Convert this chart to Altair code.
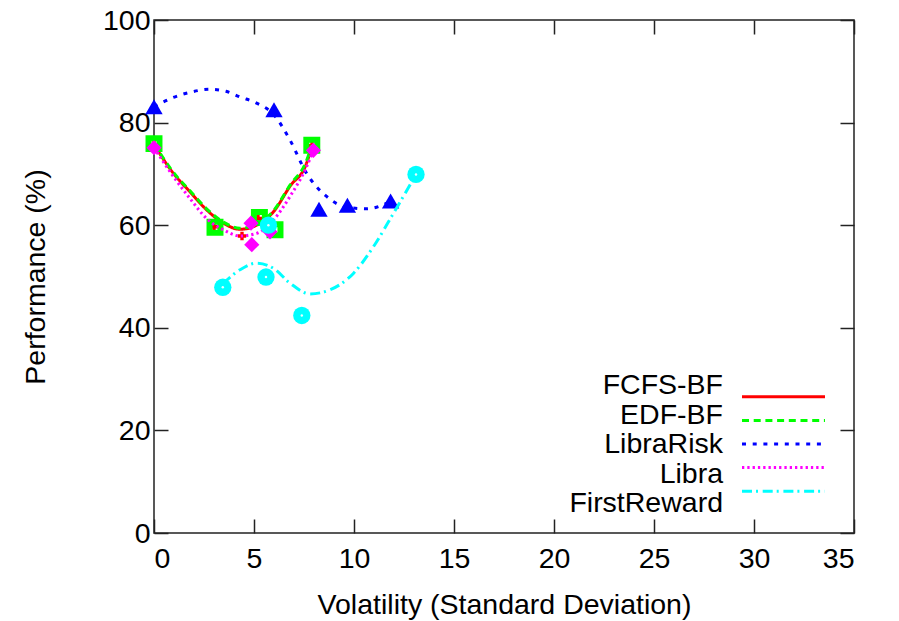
import altair as alt
import pandas as pd

# ---------------- data ----------------
series = ["FCFS-BF", "EDF-BF", "LibraRisk", "Libra", "FirstReward"]

x_ticks = [0, 5, 10, 15, 20, 25, 30, 35]
y_ticks = [0, 20, 40, 60, 80, 100]

# measured points (markers)
fcfs_x = [0.0, 3.0, 4.4, 5.2, 7.9]
fcfs_y = [75.7, 59.7, 57.9, 61.3, 75.5]
edf_x = [0.0, 3.05, 5.27, 6.05, 7.89]
edf_y = [75.9, 59.6, 61.5, 59.1, 75.6]
risk_x = [0.0, 6.0, 8.25, 9.67, 11.83]
risk_y = [83.1, 82.5, 63.1, 63.9, 64.7]
libra_x = [0.0, 4.85, 4.89, 5.8, 7.97]
libra_y = [75.1, 60.4, 56.2, 58.7, 74.6]
first_x = [3.44, 5.6, 5.72, 7.39, 13.1]
first_y = [47.9, 49.9, 60.0, 42.4, 69.9]

# smoothed curves
fcfs_cx = [0.0, 0.97, 1.8, 2.63, 3.47, 4.3, 5.13, 5.97, 6.8, 7.63, 7.9]
fcfs_cy = [75.7, 70.1, 66.5, 63.0, 60.4, 59.2, 60.0, 62.6, 67.6, 72.1, 75.5]
edf_cx = [0.0, 0.97, 1.8, 2.63, 3.47, 4.3, 5.13, 5.97, 6.8, 7.63, 7.89]
edf_cy = [75.9, 70.3, 66.7, 63.2, 60.6, 59.4, 60.2, 62.8, 67.8, 72.6, 75.6]
risk_cx = [0.0, 0.97, 1.9, 2.8, 3.6, 4.3, 5.13, 6.0, 6.8, 7.63, 8.63, 9.63, 10.63, 11.83]
risk_cy = [83.1, 84.9, 86.0, 86.5, 86.1, 85.0, 83.8, 81.5, 76.6, 70.1, 65.6, 63.5, 63.2, 64.6]
libra_cx = [0.0, 0.97, 1.8, 2.63, 3.47, 4.3, 5.13, 5.97, 6.8, 7.63, 7.97]
libra_cy = [75.1, 69.5, 65.2, 61.3, 59.1, 57.9, 58.4, 61.0, 65.6, 71.4, 74.6]
first_cx = [3.44, 4.3, 5.13, 5.97, 6.8, 7.8, 8.8, 9.97, 10.97, 11.97, 13.1]
first_cy = [48.6, 51.3, 52.6, 51.6, 48.7, 46.6, 47.4, 50.6, 55.8, 62.3, 69.9]

# ---------------- styling ----------------
FONT = "Liberation Sans"
FS = 28.5
colors = ["#ff0000", "#00ff00", "#0000ff", "#ff00ff", "#00ffff"]
dashes = [[1, 0], [7, 4.7], [4, 6.7], [2.3, 3], [10, 4, 2, 4.7]]

pts = {
    "FCFS-BF": (fcfs_x, fcfs_y),
    "EDF-BF": (edf_x, edf_y),
    "LibraRisk": (risk_x, risk_y),
    "Libra": (libra_x, libra_y),
    "FirstReward": (first_x, first_y),
}
curves = {
    "FCFS-BF": (fcfs_cx, fcfs_cy),
    "EDF-BF": (edf_cx, edf_cy),
    "LibraRisk": (risk_cx, risk_cy),
    "Libra": (libra_cx, libra_cy),
    "FirstReward": (first_cx, first_cy),
}

X_SC = alt.Scale(domain=[0, 35], nice=False, zero=False)
Y_SC = alt.Scale(domain=[0, 100], nice=False, zero=False)
COLOR = alt.Color("series:N", scale=alt.Scale(domain=series, range=colors), legend=None)
DASH = alt.StrokeDash("series:N", scale=alt.Scale(domain=series, range=dashes), legend=None)

axis_common = dict(
    grid=False, domain=False, tickSize=14, offset=-14, tickColor="#222",
    tickWidth=1.5, labelFont=FONT, labelFontSize=FS, labelColor="black",
    titleFont=FONT, titleFontSize=FS, titleColor="black", titleFontWeight="normal",
)

x_axis_main = alt.Axis(
    values=x_ticks, orient="bottom", title="Volatility (Standard Deviation)",
    labelPadding=11, titleX=350, titleY=85, titleAlign="center",
    titleBaseline="middle", **axis_common,
)
y_axis_main = alt.Axis(
    values=y_ticks, orient="left", title="Performance (%)",
    labelPadding=4, titleX=-133, titleY=256.5, titleAlign="center",
    titleBaseline="middle", titleAngle=-90, **axis_common,
)
x_axis_top = alt.Axis(values=x_ticks, orient="top", labels=False, title=None,
                      grid=False, domain=False, tickSize=14, offset=-14,
                      tickColor="#222", tickWidth=1.5)
y_axis_right = alt.Axis(values=y_ticks, orient="right", labels=False, title=None,
                        grid=False, domain=False, tickSize=14, offset=-14,
                        tickColor="#222", tickWidth=1.5)

marker_style = {
    "FCFS-BF": dict(shape="cross", filled=True, size=70, opacity=1),
    "EDF-BF": dict(shape="square", filled=False, size=120, strokeWidth=6, opacity=1),
    "LibraRisk": dict(shape="triangle-up", filled=True, size=300, opacity=1),
    "Libra": dict(shape="diamond", filled=True, size=230, opacity=1),
    "FirstReward": dict(shape="circle", filled=True, size=300, opacity=1),
}

layers = []
first = True
for name in series:
    cx, cy = curves[name]
    cdf = pd.DataFrame({"series": name, "x": cx, "y": cy})
    px, py = pts[name]
    pdf = pd.DataFrame({"series": name, "x": px, "y": py})
    if first:
        xe = alt.X("x:Q", scale=X_SC, axis=x_axis_main)
        ye = alt.Y("y:Q", scale=Y_SC, axis=y_axis_main)
        first = False
    else:
        xe = alt.X("x:Q", scale=X_SC, axis=None)
        ye = alt.Y("y:Q", scale=Y_SC, axis=None)
    line = alt.Chart(cdf).mark_line(interpolate="monotone", strokeWidth=3).encode(
        x=xe, y=ye, color=COLOR, strokeDash=DASH
    )
    point = alt.Chart(pdf).mark_point(**marker_style[name]).encode(
        x=alt.X("x:Q", scale=X_SC, axis=None),
        y=alt.Y("y:Q", scale=Y_SC, axis=None),
        color=COLOR,
    )
    layers += [line, point]
    if name == "FirstReward":
        dot = alt.Chart(pdf).mark_point(shape="circle", filled=True, size=6,
                                        color="white", opacity=0.9).encode(
            x=alt.X("x:Q", scale=X_SC, axis=None),
            y=alt.Y("y:Q", scale=Y_SC, axis=None),
        )
        layers.append(dot)

# invisible layer that carries the mirrored (top/right) tick axes
all_pts = pd.DataFrame({"x": first_x, "y": first_y})
mirror = alt.Chart(all_pts).mark_point(opacity=0).encode(
    x=alt.X("x:Q", scale=X_SC, axis=x_axis_top),
    y=alt.Y("y:Q", scale=Y_SC, axis=y_axis_right),
)
layers.append(mirror)

# legend (gnuplot style: label right-aligned, sample line to its right)
leg = pd.DataFrame({"series": series})
LEG_Y = alt.Y("series:N", scale=alt.Scale(domain=series, range=[365, 483], padding=0), axis=None)
leg_text = alt.Chart(leg).mark_text(align="right", baseline="middle", font=FONT,
                                    fontSize=FS, color="black").encode(
    x=alt.value(569), y=LEG_Y, text="series:N"
)
leg_line = alt.Chart(leg).mark_rule(strokeWidth=3).encode(
    x=alt.value(588), x2=alt.value(671), y=LEG_Y, color=COLOR, strokeDash=DASH
)
layers += [leg_text, leg_line]

chart = alt.layer(*layers).resolve_scale(y="independent").resolve_axis(
    x="independent", y="independent"
).properties(
    width=700, height=513,
    autosize=alt.AutoSizeParams(type="none"),
    padding={"left": 154, "top": 20, "right": 45, "bottom": 88},
    background="white",
).configure_view(stroke="#222", strokeWidth=1.5)

chart.save("out.html", embed_options={"renderer": "svg", "actions": False})
